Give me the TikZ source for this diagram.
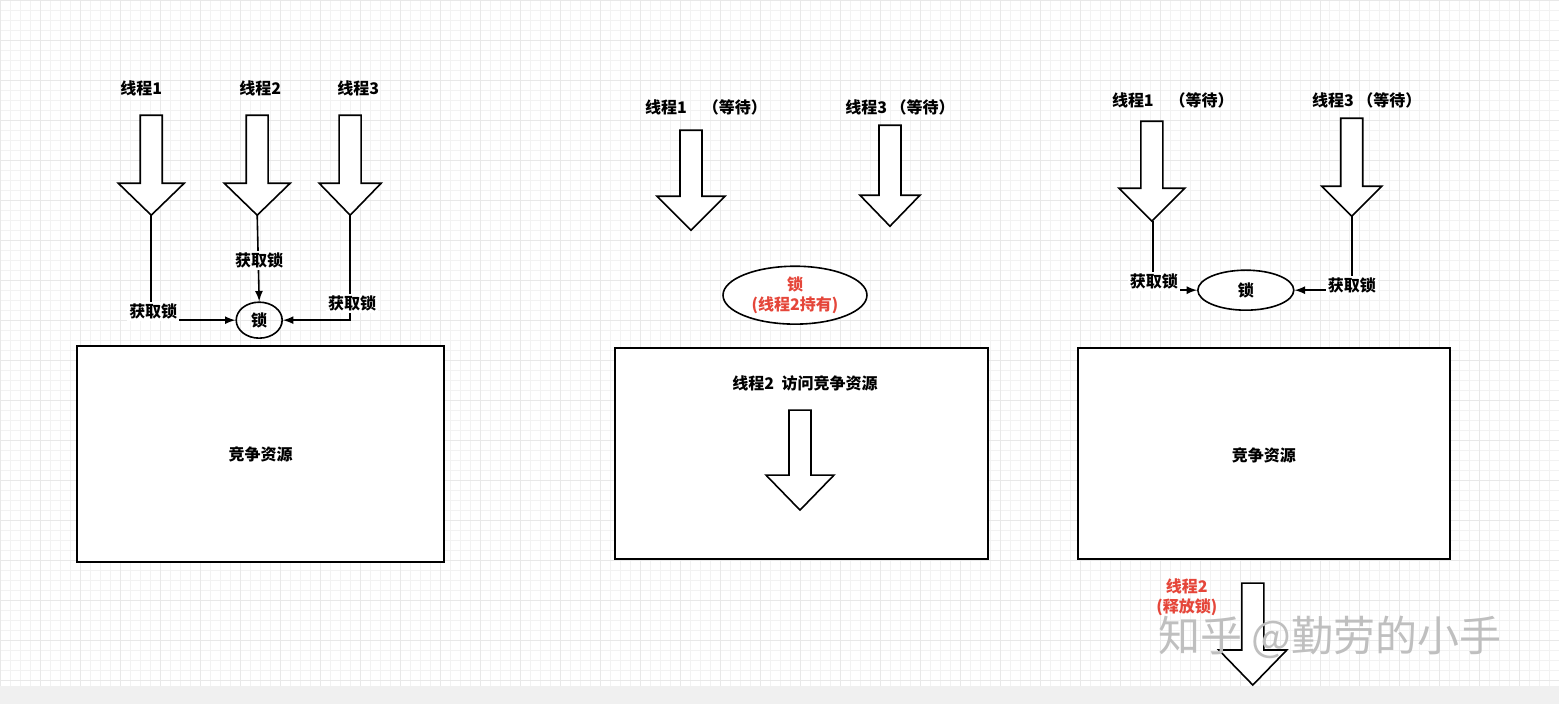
\documentclass[tikz,border=0pt]{standalone}
\usepackage{fontspec}
\usetikzlibrary{shapes.geometric}
\setmainfont{Noto Sans CJK SC}
\definecolor{rd}{HTML}{E5463A}
\begin{document}
\begin{tikzpicture}[x=0.5pt,y=-0.5pt,
  lbl/.style={font=\bfseries\fontsize{8}{10}\selectfont, inner sep=1pt},
  wl/.style={lbl, fill=white},
  ln/.style={line width=0.8pt},
  ar/.style={line width=0.8pt,-latex},
  hol/.style={draw, line width=0.8pt, fill=white}]
\fill[white] (0,0) rectangle (1559,704);
\foreach \i in {0,10,...,1550} \draw[black!5, line width=0.3pt] (\i,0) -- (\i,686);
\foreach \i in {0,10,...,680} \draw[black!5, line width=0.3pt] (0,\i) -- (1559,\i);
\foreach \i in {0,40,...,1550} \draw[black!9, line width=0.3pt] (\i,0) -- (\i,686);
\foreach \i in {0,40,...,680} \draw[black!9, line width=0.3pt] (0,\i) -- (1559,\i);
\fill[black!6] (0,686) rectangle (1559,704);
\useasboundingbox (0,0) rectangle (1559,704);
\newcommand{\harrow}[6]{\draw[hol] (#1-#5,#2) -- (#1+#5,#2) -- (#1+#5,#3) -- (#1+#6,#3) -- (#1,#4) -- (#1-#6,#3) -- (#1-#5,#3) -- cycle;}
% panel 1
\node[lbl] (t1) at (141,88) {线程1};
\node[lbl] (t2) at (260,88) {线程2};
\node[lbl] (t3) at (358,88) {线程3};
\harrow{151}{115}{183}{215}{11}{33}
\harrow{257}{115}{183}{215}{11}{33}
\harrow{350}{115}{183}{215}{11}{31}
\node[draw,ln,ellipse,minimum width=23pt,minimum height=18pt,inner sep=0,lbl] (l1) at (259,320) {锁};
\coordinate (a1) at (151,215); \coordinate (a2) at (257,215); \coordinate (a3) at (350,215);
\draw[ar] (a1) |- (l1.west);
\draw[ar] (a2) -- (l1.north);
\draw[ar] (a3) |- (l1.east);
\node[wl] at (153,311) {获取锁};
\node[wl] at (259,260) {获取锁};
\node[wl] at (352,303) {获取锁};
\draw[ln,fill=white] (77,346) rectangle (444,562);
\node[lbl] (r1) at (260.5,454) {竞争资源};
% panel 2
\node[lbl] at (706,107) {线程1\quad （等待）};
\node[lbl] at (900,107) {线程3 （等待）};
\harrow{691}{130}{196}{230}{11}{34}
\harrow{890}{125}{195}{226}{11}{30}
\node[draw,ln,ellipse,minimum width=72pt,minimum height=27pt,inner sep=0,lbl,text=rd,align=center,fill=white] (l2) at (795,295) {锁\\(线程2持有)};
\draw[ln,fill=white] (615,348) rectangle (988,559);
\node[lbl] at (805,383) {线程2\ \ 访问竞争资源};
\harrow{800}{410}{475}{510}{11}{34}
% panel 3
\node[lbl] at (1173,100) {线程1\quad （等待）};
\node[lbl] at (1367,100) {线程3 （等待）};
\harrow{1152}{121}{188}{221}{11}{33}
\harrow{1352}{118}{186}{216}{11}{30}
\node[draw,ln,ellipse,minimum width=48pt,minimum height=20pt,inner sep=0,lbl,fill=white] (l3) at (1246,290) {锁};
\coordinate (b1) at (1153,221); \coordinate (b3) at (1352,216);
\draw[ar] (b1) |- (l3.west);
\draw[ar] (b3) |- (l3.east);
\node[wl] at (1154,281) {获取锁};
\node[wl] at (1352,285) {获取锁};
\draw[ln,fill=white] (1078,348) rectangle (1450,559);
\node[lbl] (r3) at (1264,455) {竞争资源};
\node[lbl,text=rd,align=center] at (1187,597) {线程2\\(释放锁)};
\harrow{1253}{583}{650}{685}{11}{34}
\node[font=\fontsize{21}{24}\selectfont,text=black!25] at (1330,637) {知乎 @勤劳的小手};
\end{tikzpicture}
\end{document}
